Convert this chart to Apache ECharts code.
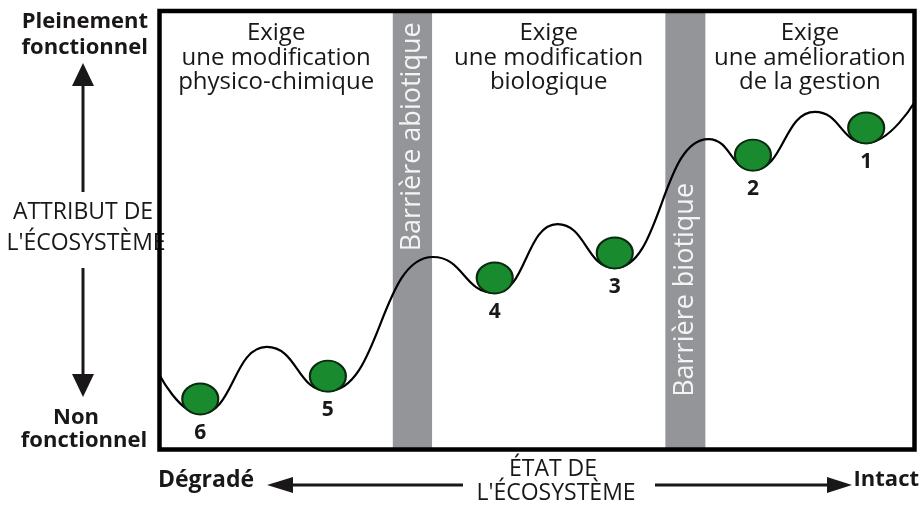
<!DOCTYPE html>
<html><head><meta charset="utf-8">
<script src="https://cdn.jsdelivr.net/npm/echarts@6/dist/echarts.min.js"></script>
<style>html,body{margin:0;padding:0;background:#fff}#c{width:921px;height:507px}</style>
</head><body><div id="c"></div>
<script>
// Landscape curve: alternating troughs and ridges (x: state 0-100, y: attribute 0-100)
const curveX = [0, 5.4, 14.2, 22.3, 36.2, 44.4, 52.7, 60.3, 72.7, 78.6, 86.8, 93.6, 100];
const curveY = [17.0, 8.1, 23.4, 13.3, 43.9, 35.7, 51.4, 41.4, 70.8, 63.7, 77.0, 69.9, 79.2];
// Stable states (balls) resting in troughs
const stateNames = ['6', '5', '4', '3', '2', '1'];
const stateX = [5.4, 22.3, 44.4, 60.3, 78.6, 93.6];
const stateY = [8.1, 13.3, 35.7, 41.4, 63.7, 69.9];
// Barriers
const barrierNames = ['Barrière abiotique', 'Barrière biotique'];
const barrierStart = [30.9, 67.0];
const barrierEnd = [36.1, 72.3];
const barrierLabelY = [71.3, 36.4];
// Region headings
const regionLabels = ['Exige\nune modification\nphysico-chimique', 'Exige\nune modification\nbiologique', 'Exige\nune amélioration\nde la gestion'];
const regionLabelY = 89.3;

const FONT = '"Open Sans", "Noto Sans", sans-serif';
const INK = '#1a1718';
const G = { left: 159.5, top: 11, right: 6.5, bottom: 57.5 };
const W = 921, H = 507;

const regionBounds = [[0, barrierStart[0]], [barrierEnd[0], barrierStart[1]], [barrierEnd[1], 100]];

const chart = echarts.init(document.getElementById('c'), null, { renderer: 'canvas' });

function txt(text, x, y, size, bold, align) {
  return {
    type: 'text', x: x, y: y, z: 50,
    style: { text: text, fill: INK, font: (bold ? 'bold ' : '') + size + 'px ' + FONT,
      textAlign: align || 'center', textVerticalAlign: 'middle', align: align || 'center', verticalAlign: 'middle' }
  };
}
function seg(x1, y1, x2, y2) {
  return { type: 'line', z: 50, shape: { x1, y1, x2, y2 }, style: { stroke: INK, lineWidth: 3 } };
}
function head(points) {
  return { type: 'polygon', z: 50, shape: { points: points }, style: { fill: INK } };
}

const option = {
  animation: false,
  backgroundColor: '#fff',
  grid: { left: G.left, top: G.top, right: G.right, bottom: G.bottom, show: false },
  xAxis: { type: 'value', min: 0, max: 100, show: false },
  yAxis: { type: 'value', min: 0, max: 100, show: false },
  graphic: [
    { type: 'rect', z: 100, shape: { x: G.left, y: G.top, width: W - G.left - G.right, height: H - G.top - G.bottom },
      style: { fill: 'none', stroke: '#000', lineWidth: 4.5 } },
    txt('Pleinement', 148, 22, 22, true, 'right'),
    txt('fonctionnel', 148, 48, 22, true, 'right'),
    txt('ATTRIBUT DE', 83, 212, 23, false),
    txt("L'ÉCOSYSTÈME", 86, 243, 23, false),
    txt('Non', 76, 418, 22, true),
    txt('fonctionnel', 84, 441, 22, true),
    seg(83, 192, 83, 80), head([[83, 63], [72, 86], [94, 86]]),
    seg(83, 268, 83, 380), head([[83, 397], [72, 374], [94, 374]]),
    txt('Dégradé', 158, 480, 23, true, 'left'),
    txt('Intact', 919, 480, 22, true, 'right'),
    txt('ÉTAT DE', 553, 469, 23, false),
    txt("L'ÉCOSYSTÈME", 556, 493, 23, false),
    seg(288, 485, 463, 485), head([[267, 485], [293, 477], [293, 493]]),
    seg(655, 485, 832, 485), head([[852, 485], [827, 477], [827, 493]])
  ],
  series: [
    {
      name: 'barriers', type: 'scatter', z: 1,
      symbolSize: 0.1, itemStyle: { color: 'rgba(0,0,0,0)', opacity: 1 },
      data: barrierNames.map((n, i) => ({ name: n, value: [(barrierStart[i] + barrierEnd[i]) / 2, barrierLabelY[i]] })),
      label: { show: true, position: 'inside', rotate: 90, formatter: p => p.name,
        fontFamily: FONT, fontSize: 27, color: '#f4f4f4', align: 'center', verticalAlign: 'middle' },
      markArea: {
        silent: true,
        itemStyle: { color: '#939598', opacity: 1 },
        label: { show: false },
        data: barrierNames.map((n, i) => [{ xAxis: barrierStart[i], yAxis: 0 }, { xAxis: barrierEnd[i], yAxis: 100 }])
      }
    },
    {
      name: 'regions', type: 'scatter', z: 2,
      symbolSize: 0.1, itemStyle: { color: 'rgba(0,0,0,0)', opacity: 1 },
      data: regionLabels.map((n, i) => ({ name: n, value: [(regionBounds[i][0] + regionBounds[i][1]) / 2, regionLabelY] })),
      label: { show: true, position: 'inside', formatter: p => p.name, fontFamily: FONT, fontSize: 24,
        lineHeight: 24.5, color: INK, align: 'center', verticalAlign: 'middle' }
    },
    {
      name: 'landscape', type: 'line', z: 3,
      smooth: 0.5, smoothMonotone: 'x', symbol: 'none',
      lineStyle: { color: '#000', width: 2.2 },
      data: curveX.map((x, i) => [x, curveY[i]])
    },
    {
      name: 'states', type: 'scatter', z: 4,
      symbol: 'circle', symbolSize: [36, 31], symbolOffset: [0, -15],
      itemStyle: { color: '#1a8a2e', borderColor: '#0a2a10', borderWidth: 2, opacity: 1 },
      data: stateNames.map((n, i) => ({ name: n, value: [stateX[i], stateY[i]] })),
      label: { show: true, position: 'bottom', distance: 7, formatter: p => p.name,
        fontFamily: FONT, fontWeight: 'bold', fontSize: 21, color: INK }
    }
  ]
};
chart.setOption(option);
</script>
</body></html>
